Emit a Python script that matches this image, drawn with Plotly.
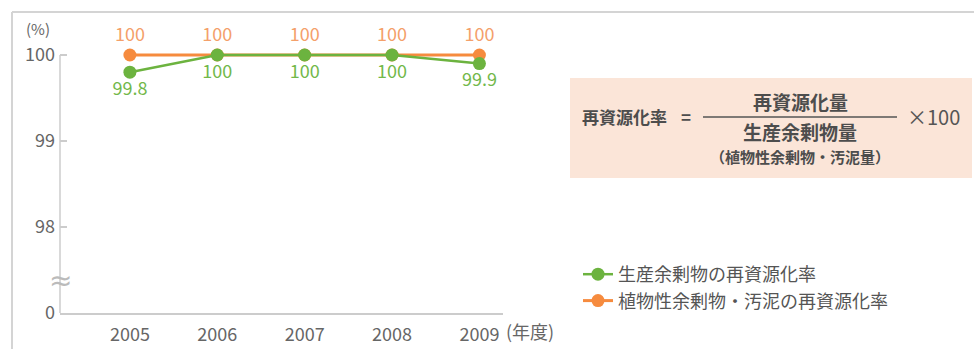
import plotly.graph_objects as go

years = [2005, 2006, 2007, 2008, 2009]
year_labels = ["2005", "2006", "2007", "2008", "2009"]
green_vals = [99.8, 100, 100, 100, 99.9]
orange_vals = [100, 100, 100, 100, 100]
green_text = ["99.8", "100", "100", "100", "99.9"]
orange_text = ["100", "100", "100", "100", "100"]
green_name = "生産余剰物の再資源化率"
orange_name = "植物性余剰物・汚泥の再資源化率"
y_tickvals = [97, 98, 99, 100]
y_ticktext = ["0", "98", "99", "100"]

W, H = 974, 349
L, R, T, B = 60, 471, 12, 36
PW = W - L - R
PH = H - T - B

def px(x):
    return (x - L) / PW

def py(y):
    return (H - B - y) / PH

FONT = "Noto Sans CJK JP"
GREEN = "#6cb33f"
ORANGE = "#f68b3e"
GREY_TXT = "#666666"

fig = go.Figure()
fig.add_trace(go.Scatter(
    x=years, y=orange_vals, name=orange_name, mode="lines+markers+text",
    line=dict(color=ORANGE, width=3), marker=dict(color=ORANGE, size=13),
    text=orange_text, textposition="top center",
    textfont=dict(color="#f4a06a", size=18, family=FONT),
    legendrank=2,
))
fig.add_trace(go.Scatter(
    x=years, y=green_vals, name=green_name, mode="lines+markers+text",
    line=dict(color=GREEN, width=2.5), marker=dict(color=GREEN, size=13),
    text=green_text, textposition="bottom center",
    textfont=dict(color="#72b84a", size=18, family=FONT),
    legendrank=1,
))

shapes = [
    # outer frame
    dict(type="line", xref="paper", yref="paper", x0=px(12), x1=px(974), y0=py(12), y1=py(12),
         line=dict(color="#d4d4d4", width=2)),
    dict(type="line", xref="paper", yref="paper", x0=px(12), x1=px(12), y0=py(12), y1=py(349),
         line=dict(color="#d4d4d4", width=2)),
    # y axis line (97..100)
    dict(type="line", xref="paper", yref="y", x0=0, x1=0, y0=97, y1=100,
         line=dict(color="#cccccc", width=1.5)),
    # formula box
    dict(type="rect", xref="paper", yref="paper", x0=px(570), x1=px(972), y0=py(78), y1=py(178),
         fillcolor="#fbe5d8", line=dict(width=0), layer="below"),
    dict(type="line", xref="paper", yref="paper", x0=px(703), x1=px(897), y0=py(117), y1=py(117),
         line=dict(color="#555555", width=1.5)),
]

ann = []
def add_text(text, x, y, size, color="#555555", xanchor="center", bold=False, bg=None):
    d = dict(text=("<b>%s</b>" % text) if bold else text, xref="paper", yref="paper",
             x=px(x), y=py(y), xanchor=xanchor, yanchor="middle", showarrow=False,
             font=dict(family=FONT, size=size, color=color))
    if bg:
        d["bgcolor"] = bg
    ann.append(d)

add_text("(%)", 38, 28, 15, GREY_TXT)
add_text("(年度)", 504, 331, 18, GREY_TXT, xanchor="left")
ann.append(dict(text="≈", xref="paper", yref="y", x=0, y=97.38, xanchor="center", yanchor="middle",
                showarrow=False, font=dict(family="DejaVu Sans", size=28, color="#bbbbbb")))
add_text("再資源化率", 580, 116, 17, "#4d4d4d", xanchor="left", bold=True)
add_text("=", 686, 116, 17, "#4d4d4d", bold=True)
add_text("再資源化量", 800, 101, 19, "#4d4d4d", bold=True)
add_text("生産余剰物量", 800, 131, 19, "#4d4d4d", bold=True)
add_text("（植物性余剰物・汚泥量）", 800, 156, 15, "#4d4d4d", bold=True)
add_text("×100", 933, 116, 20, "#555555")

fig.update_layout(
    width=W, height=H,
    margin=dict(l=L, r=R, t=T, b=B, pad=0, autoexpand=False),
    paper_bgcolor="white", plot_bgcolor="white",
    font=dict(family=FONT, color=GREY_TXT),
    shapes=shapes, annotations=ann,
    showlegend=True,
    legend=dict(x=px(578), y=py(256), xanchor="left", yanchor="top",
                traceorder="normal",
                font=dict(family=FONT, size=18, color="#555555"),
                bgcolor="rgba(0,0,0,0)", itemwidth=30),
    xaxis=dict(range=[2004.2, 2009.27], tickvals=years, ticktext=year_labels,
               showgrid=False, zeroline=False, showline=True, linecolor="#cccccc", linewidth=1.5,
               ticks="", tickfont=dict(size=18, color=GREY_TXT, family=FONT), ticklabelstandoff=5,
               fixedrange=True, automargin=False),
    yaxis=dict(range=[97, 100.5], tickvals=y_tickvals, ticktext=y_ticktext,
               showgrid=False, zeroline=False, showline=False,
               ticks="inside", ticklen=7, tickcolor="#cccccc", tickwidth=1.5,
               tickfont=dict(size=18, color=GREY_TXT, family=FONT), ticklabelstandoff=4,
               fixedrange=True, automargin=False),
)

fig.write_html("out.html")
